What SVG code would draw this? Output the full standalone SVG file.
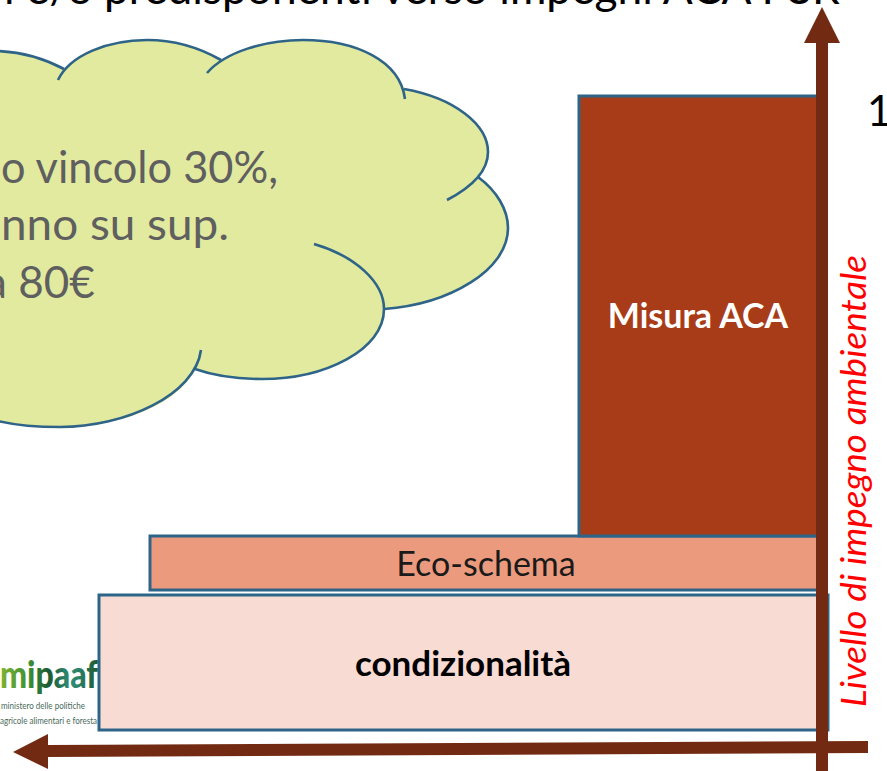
<svg xmlns="http://www.w3.org/2000/svg" width="887" height="771" viewBox="0 0 887 771">
<defs>
<linearGradient id="logoFill" x1="0" y1="0" x2="1" y2="0">
<stop offset="0" stop-color="#7fb32e"/><stop offset="0.3" stop-color="#3c8f35"/><stop offset="0.5" stop-color="#1c5a33"/><stop offset="0.72" stop-color="#2f8f7a"/><stop offset="1" stop-color="#1f5a30"/>
</linearGradient>
</defs>
<style>
text{font-family:Lato,"Liberation Sans",sans-serif}
.box{stroke:#2f6489;stroke-width:3}
.cl{fill:none;stroke:#2f6489;stroke-width:2.6}
.arrow{fill:#732a12}
.cloudtxt{font-size:44px;fill:#5f5f5f}
.small{font-size:10px;fill:#4a6a5a}
</style>
<g id="title"><text x="-12" y="3.5" font-size="44.3" fill="#000">ri e/o predisponenti verso impegni ACA PSR</text></g>
<g id="cloud">
<path fill="#e2ea9f" stroke="none" d="M-2 51C25 52 47 60 64 69C85 47 115 40 147 40C175 40 200 48 221 60C245 46 275 40 303 40C355 40 395 60 404 89C455 98 488 125 488 152C488 162 484 171 478 177C497 191 508 210 508 228C508 270 450 304 384 309C384 350 325 379 262 379C235 379 212 375 195 369C178 405 120 427 60 427C35 427 15 425 -2 421Z"/>
<path class="cl" d="M-2 51C25 52 47 60 64 69"/>
<path class="cl" d="M58 80C70 55 108 40 147 40C175 40 200 48 221 60"/>
<path class="cl" d="M207 73C225 52 265 40 303 40C355 40 400 60 405 99"/>
<path class="cl" d="M404 89C455 98 488 125 488 152C488 172 470 188 447 200"/>
<path class="cl" d="M478 177C497 191 508 210 508 228C508 270 450 304 384 309"/>
<path class="cl" d="M314 244C355 256 384 282 384 309C384 350 325 379 262 379C235 379 212 375 195 369"/>
<path class="cl" d="M201 350C195 395 125 427 60 427C35 427 15 425 -2 421"/>
<text class="cloudtxt" x="1" y="183" textLength="277" lengthAdjust="spacingAndGlyphs">o vincolo 30%,</text>
<text class="cloudtxt" x="1" y="240" textLength="228" lengthAdjust="spacingAndGlyphs">nno su sup.</text>
<text class="cloudtxt" x="-15" y="298">a 80€</text>
</g>
<g id="logo">
<text x="0" y="688" font-size="38" font-weight="900" fill="url(#logoFill)" textLength="98" lengthAdjust="spacingAndGlyphs">mipaaf</text>
<text class="small" x="1" y="709" textLength="84" lengthAdjust="spacingAndGlyphs">ministero delle politiche</text>
<text class="small" x="0" y="724" textLength="97" lengthAdjust="spacingAndGlyphs">agricole alimentari e foresta</text>
</g>
<g id="condizionalita">
<rect class="box" x="99" y="595" width="729" height="135" fill="#f8dcd4"/>
<text x="463" y="676" font-size="35" font-weight="700" fill="#000" text-anchor="middle">condizionalità</text>
</g>
<g id="eco-schema">
<rect class="box" x="150" y="536" width="672" height="54" fill="#ec9a7e"/>
<text x="486" y="576" font-size="34" fill="#1a1a1a" text-anchor="middle">Eco-schema</text>
</g>
<g id="misura-aca">
<rect class="box" x="579" y="96" width="240" height="440" fill="#a93c18"/>
<text x="698" y="328" font-size="34" font-weight="700" fill="#fff" text-anchor="middle">Misura ACA</text>
</g>
<g id="connectors">
<path class="arrow" d="M816 771V43H804L822 7L840 43H828V771Z"/>
<path class="arrow" d="M868 741V753L48 757V769L13 752L48 734V745Z"/>
</g>
<g id="axis-labels">
<text transform="translate(866 707) rotate(-90)" font-size="35" font-style="italic" fill="#f00" textLength="452" lengthAdjust="spacingAndGlyphs">Livello di impegno ambientale</text>
<text x="867" y="126" font-size="42" fill="#000">1</text>
</g>
</svg>
